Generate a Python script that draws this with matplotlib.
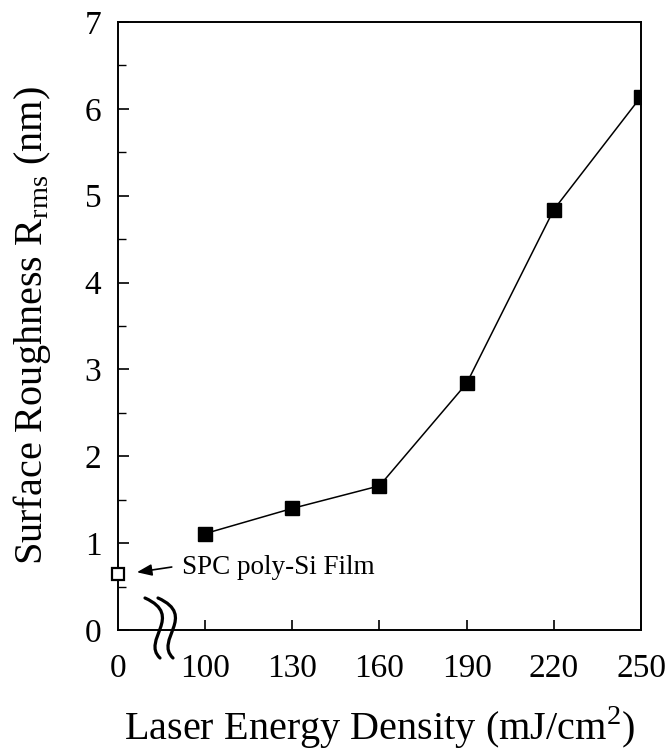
import numpy as np
import matplotlib
matplotlib.use("Agg")
import matplotlib.pyplot as plt
from matplotlib.path import Path
from matplotlib.patches import PathPatch

# laser annealed films
energy = [100, 130, 160, 190, 220, 250]
rms = [1.11, 1.40, 1.66, 2.84, 4.84, 6.14]
# SPC film (energy 0), drawn one step left of 100 because of the axis break
spc_pos = 70
spc_rms = 0.645
xticks = [70, 100, 130, 160, 190, 220, 250]
xticklabels = ["0", "100", "130", "160", "190", "220", "250"]

plt.rcParams["font.family"] = ["Liberation Serif", "DejaVu Serif"]
plt.rcParams["mathtext.fontset"] = "custom"
plt.rcParams["mathtext.rm"] = "Liberation Serif"

W, H = 670, 753
fig = plt.figure(figsize=(W / 100, H / 100), dpi=100)
ax = fig.add_axes([118 / W, 1 - 630 / H, (641 - 118) / W, (630 - 22) / H])

ax.plot(energy, rms, color="black", lw=1.1, marker="s", ms=10, mfc="black", mec="black")
ax.plot([spc_pos], [spc_rms], ls="none", marker="s", ms=9, mfc="white", mec="black", mew=1.6,
        clip_on=False, zorder=5)
ax.annotate("", xy=(76.5, 0.665), xytext=(88.5, 0.725),
            arrowprops=dict(arrowstyle="-|>,head_length=0.9,head_width=0.35", color="black",
                            lw=1.2, shrinkA=0, shrinkB=0))
ax.text(92, 0.725, "SPC poly-Si Film", fontsize=19.5, va="center", ha="left")

ax.set_xlim(70, 250)
ax.set_ylim(0, 7)
ax.set_xticks(xticks)
ax.set_xticklabels(xticklabels)
ax.set_yticks(range(0, 8))
ax.set_yticks(np.arange(0.5, 7, 1.0), minor=True)
ax.tick_params(axis="both", which="major", direction="in", length=8, width=1.2,
               labelsize=24, top=False, right=False)
ax.tick_params(axis="y", which="major", pad=12)
ax.tick_params(axis="x", which="major", length=7, pad=17)
ax.tick_params(axis="y", which="minor", direction="in", length=5.5, width=1.0, right=False)
for s in ax.spines.values():
    s.set_linewidth(1.4)
# the 0 tick sits on the left spine
ax.get_xticklines()[0].set_visible(False)

ax.set_xlabel("Laser Energy Density (mJ/cm$^2$)", fontsize=29)
ax.set_ylabel("Surface Roughness R$_{\\mathrm{rms}}$ (nm)", fontsize=29)
ax.xaxis.set_label_coords(0.5, -0.122)
ax.yaxis.set_label_coords(-0.125, 0.5)

# axis break marks (wavy lines), drawn in figure pixels
for x0 in (145, 158):
    pts = np.array([[0, 0], [40, 18], [-4, 42], [15, 60]], dtype=float)
    pts[:, 0] += x0
    pts[:, 1] += 598
    verts = np.column_stack([pts[:, 0] / W, 1 - pts[:, 1] / H])
    path = Path(verts, [Path.MOVETO, Path.CURVE4, Path.CURVE4, Path.CURVE4])
    fig.add_artist(PathPatch(path, transform=fig.transFigure, fill=False,
                             edgecolor="black", lw=2.3, capstyle="round"))

fig.savefig("out.png", dpi=100)
